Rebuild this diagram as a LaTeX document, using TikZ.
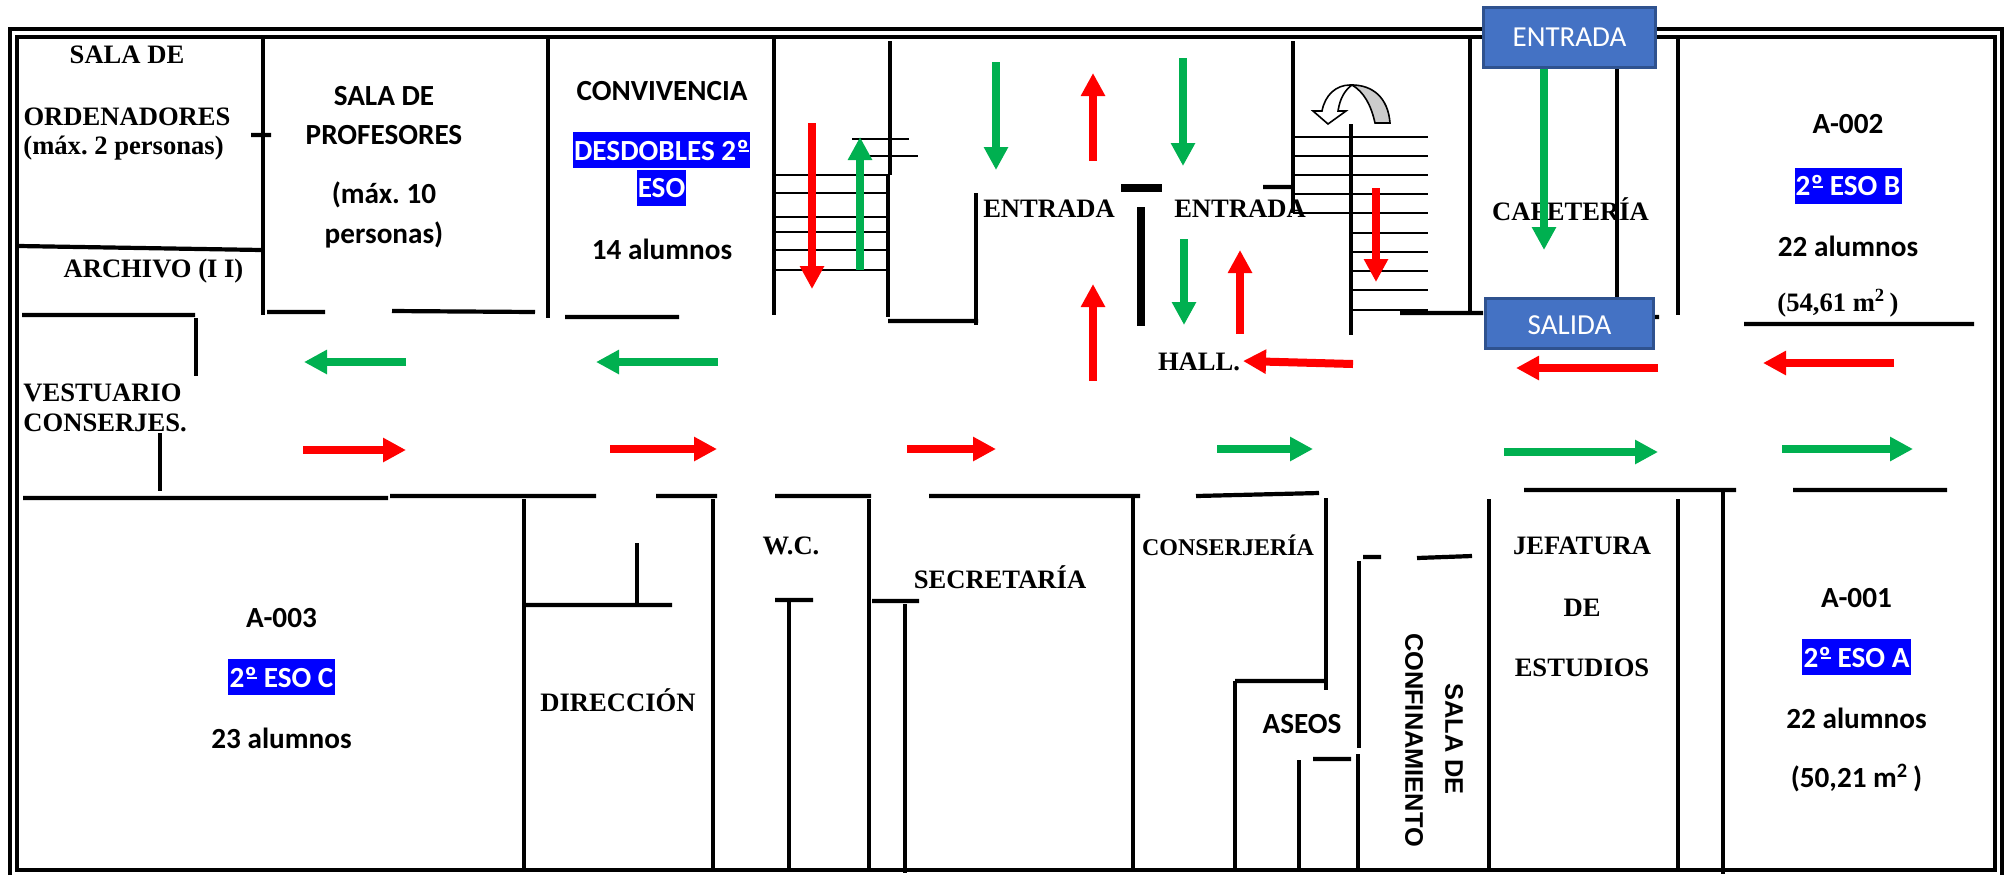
\documentclass[tikz,border=0pt]{standalone}
\usepackage{fontspec}
\usepackage{tikz}
\usetikzlibrary{arrows.meta}
\setmainfont{Liberation Serif}
\newfontfamily\calibri{Carlito}
\newfontfamily\arial{Liberation Sans}
\definecolor{arrowred}{HTML}{FF0000}
\definecolor{arrowgreen}{HTML}{00B050}
\definecolor{boxblue}{HTML}{4472C4}
\definecolor{boxedge}{HTML}{2F528F}
\newcommand{\ordo}{º\llap{\rule[.27em]{.34em}{.07em}}}
\frenchspacing
\begin{document}
\begin{tikzpicture}[%
  x=.5pt,y=-.5pt,
  wall/.style={line width=1.7pt},
  thick wall/.style={line width=2.1pt},
  stair/.style={line width=1.1pt},
  room/.style={font=\fontsize{13.3}{13.3}\selectfont\bfseries,inner sep=0pt},
  small room/.style={room,font=\fontsize{12}{12}\selectfont\bfseries},
  w/.style={anchor=west},
  class/.style={font=\fontsize{14.6}{14.6}\calibri\bfseries,inner sep=0pt},
  group/.style={class,text=white,fill=blue,minimum height=18pt,inner xsep=.6pt},
  door/.style={font=\fontsize{14.5}{14.5}\calibri,text=white,fill=boxblue,draw=boxedge,line width=1.2pt,minimum width=86pt,inner sep=0pt},
  sideways/.style={font=\fontsize{12.7}{12.7}\arial\bfseries,rotate=-90,inner sep=0pt},
  red way/.style={draw=arrowred,line width=4pt,-{Triangle[length=11.5pt,width=11.5pt,fill=arrowred]}},
  green way/.style={draw=arrowgreen,line width=4pt,-{Triangle[length=11.5pt,width=11.5pt,fill=arrowgreen]}}]
  \useasboundingbox (0,0) rectangle (2006,875);
  \draw[line width=2pt] (9.6,875) -- (9.6,29) -- (2002,29) -- (2002,875);
  \draw[line width=2pt] (17,37) rectangle (1995,870);

  \draw[wall] (263,37) -- (263,315) (548,37) -- (548,318) (774,37) -- (774,315)
  (890,41) -- (890,175) (888,175) -- (888,317) (976,193) -- (976,325)
  (196,318) -- (196,376) (160,433) -- (160,491)
  (524,499) -- (524,870) (713,499) -- (713,870) (869,499) -- (869,870)
  (637,543) -- (637,605) (789,600) -- (789,870) (905,604) -- (905,873)
  (1133,498) -- (1133,870) (1326,498) -- (1326,690) (1235,681) -- (1235,870)
  (1359,561) -- (1359,748) (1358,754) -- (1358,870) (1299,760) -- (1299,870)
  (1489,499) -- (1489,870) (1678,499) -- (1678,870) (1723,490) -- (1723,874)
  (1293,41) -- (1293,213) (1351,124) -- (1351,335)
  (1470,37) -- (1470,313) (1617,68) -- (1617,298) (1678,37) -- (1678,315);
  \draw[thick wall] (888,321) -- (978,321) (251,135) -- (271,135)
  (19,246) -- (262,250) (22,315) -- (195,315)
  (267,312) -- (325,312) (392,311) -- (535,312) (565,317) -- (679,317)
  (23,498) -- (388,498) (390,496) -- (596,496) (656,496) -- (717,496)
  (775,496) -- (871,496) (929,496) -- (1140,496) (1196,496) -- (1319,493)
  (524,605) -- (672,605) (775,600) -- (813,600) (872,601) -- (919,601)
  (1235,681) -- (1326,681) (1363,557) -- (1381,557) (1417,558) -- (1472,556)
  (1313,759) -- (1351,759) (1524,490) -- (1736,490) (1793,490) -- (1947,490)
  (1263,187) -- (1293,187) (1400,313) -- (1483,313) (1654,317) -- (1659,317)
  (1744,324) -- (1974,324);
  \draw[line width=4pt] (1121,188) -- (1162,188) (1141,207) -- (1141,326);
  \draw[stair] (774,175) -- (888,175) (774,193) -- (888,193) (774,217) -- (888,217)
  (774,232) -- (888,232) (774,250) -- (888,250) (774,270) -- (888,270)
  (852,139) -- (909,139) (870,156) -- (918,156)
  (1293,137) -- (1428,137) (1293,156) -- (1428,156) (1293,175) -- (1428,175)
  (1293,194) -- (1428,194) (1293,213) -- (1428,213) (1351,233) -- (1428,233)
  (1351,252) -- (1428,252) (1351,271) -- (1428,271) (1351,290) -- (1428,290)
  (1351,310) -- (1428,310);

  \node[room] (sala1) at (127,55) {SALA DE};
  \node[room] (orden) at (127,117) {ORDENADORES};
  \node[room,w] (max2) at (23,148) {(máx. 2 personas)};
  \node[room] (archivo) at (153.5,271) {ARCHIVO (I I)};
  \node[room,w] (vest) at (23,393) {VESTUARIO};
  \node[room,w] (consj) at (23,423) {CONSERJES.};
  \node[class] (sala2) at (384,96) {SALA DE};
  \node[class] (prof) at (384,135) {PROFESORES};
  \node[class] (max10) at (384,195) {(máx. 10};
  \node[class] (pers) at (384,235) {personas)};
  \node[class] (conv) at (662,91) {CONVIVENCIA};
  \node[group] (desd) at (661.5,150) {DESDOBLES 2\ordo};
  \node[group] (eso) at (661.5,188) {ESO};
  \node[class] (al14) at (662,249) {14 alumnos};
  \node[room] (ent1) at (1049,209) {ENTRADA};
  \node[room] (ent2) at (1240,209) {ENTRADA};
  \node[room] (cafe) at (1570.5,209) {CAFETERÍA};
  \node[room] (hall) at (1199,362) {HALL.};
  \node[class] (a2) at (1848,124) {A-002};
  \node[group] (esob) at (1848,185.5) {2\ordo{} ESO B};
  \node[class] (al22b) at (1848,246) {22 alumnos};
  \node[room] (m2b) at (1838,303) {(54,61 m\textsuperscript{2}\,)};
  \node[class] (a3) at (281.5,618) {A-003};
  \node[group] (esoc) at (281.5,677) {2\ordo{} ESO C};
  \node[class] (al23) at (281.5,738) {23 alumnos};
  \node[room] (direc) at (618,700) {DIRECCIÓN};
  \node[room] (wc) at (791,546) {W.C.};
  \node[room] (secre) at (1000,577) {SECRETARÍA};
  \node[small room] (consr) at (1228,545) {CONSERJERÍA};
  \node[class] (aseos) at (1302,724) {ASEOS};
  \node[sideways] (conf) at (1414,740) {CONFINAMIENTO};
  \node[sideways] (sala3) at (1454,739) {SALA DE};
  \node[room] (jef) at (1582,546) {JEFATURA};
  \node[room] (de) at (1582,608) {DE};
  \node[room] (estu) at (1582,668) {ESTUDIOS};
  \node[class] (a1) at (1856.5,598) {A-001};
  \node[group] (esoa) at (1856.5,657) {2\ordo{} ESO A};
  \node[class] (al22a) at (1856.5,718) {22 alumnos};
  \node[class] (m2a) at (1856.5,778) {(50,21 m\textsuperscript{2}\,)};

  \draw[red way] (812,123) -- (812,289);
  \draw[red way] (1093,161) -- (1093,73);
  \draw[red way] (1093,381) -- (1093,284);
  \draw[red way] (1240,334) -- (1240,250);
  \draw[red way] (1376,188) -- (1376,282);
  \draw[red way] (1353,364) -- (1243,361);
  \draw[red way] (1658,368) -- (1516,368);
  \draw[red way] (1894,363) -- (1763,363);
  \draw[red way] (303,450) -- (406,450);
  \draw[red way] (610,449) -- (717,449);
  \draw[red way] (907,449) -- (996,449);
  \draw[green way] (860,270) -- (860,137);
  \draw[green way] (996,62) -- (996,170);
  \draw[green way] (1183,58) -- (1183,166);
  \draw[green way] (1184,239) -- (1184,325);
  \draw[green way] (1544,68) -- (1544,250);
  \draw[green way] (406,362) -- (304,362);
  \draw[green way] (718,362) -- (596,362);
  \draw[green way] (1217,449) -- (1313,449);
  \draw[green way] (1504,452) -- (1658,452);
  \draw[green way] (1782,449) -- (1913,449);

  \draw[fill=black!20,line width=.8pt] (1390,123) .. controls (1388,97) and (1372,85) .. (1352,85)
  .. controls (1364,92) and (1371,105) .. (1375,123) -- cycle;
  \draw[fill=white,line width=.8pt] (1350,85) .. controls (1336,85) and (1325,95) .. (1322,111)
  -- (1313,111) -- (1328,124) -- (1346,111) -- (1338,111)
  .. controls (1340,98) and (1345,90) .. (1352,85) -- cycle;

  \node[door,minimum height=30pt] (entrada) at (1569.5,37.5) {ENTRADA};
  \node[door,minimum height=25pt,minimum width=84pt] (salida) at (1569.5,323.5) {\raisebox{-5.25pt}[4pt][4pt]{SALIDA}};
\end{tikzpicture}
\end{document}
